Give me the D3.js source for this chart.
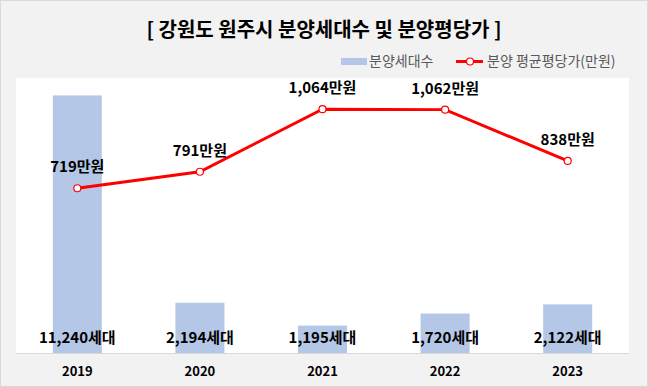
<!DOCTYPE html>
<html>
<head>
<meta charset="utf-8">
<script src="https://cdn.jsdelivr.net/npm/d3@7"></script>
<style>
  body { margin: 0; background: #fff; }
  svg { display: block; font-family: "Noto Sans CJK KR", "Noto Sans", sans-serif; }
</style>
</head>
<body>
<svg id="chart" width="648" height="387"></svg>
<script>
// data
const years = ["2019", "2020", "2021", "2022", "2023"];
const units = [11240, 2194, 1195, 1720, 2122];       // 분양세대수
const prices = [719, 791, 1064, 1062, 838];          // 분양 평균평당가(만원)

const width = 648, height = 387;
const plot = {left: 16, right: 629, top: 78, bottom: 353};

const svg = d3.select("#chart");

// background + border
svg.append("rect")
    .attr("x", 0.5).attr("y", 0.5)
    .attr("width", width - 1).attr("height", height - 1)
    .attr("fill", "#f2f2f2")
    .attr("stroke", "#d9d9d9");

svg.append("rect")
    .attr("x", plot.left).attr("y", plot.top)
    .attr("width", plot.right - plot.left).attr("height", plot.bottom - plot.top)
    .attr("fill", "#ffffff");

// scales
const x = d3.scaleBand()
    .domain(years)
    .range([plot.left, plot.right])
    .paddingInner(0.6)
    .paddingOuter(0.3);

const yBar = d3.scaleLinear().domain([0, 12000]).range([plot.bottom, plot.top]);
const yLine = d3.scaleLinear().domain([0, 1200]).range([plot.bottom, plot.top]);

// bars
svg.selectAll(".bar")
    .data(units)
    .join("rect")
    .attr("class", "bar")
    .attr("x", (d, i) => x(years[i]))
    .attr("y", d => yBar(d))
    .attr("width", x.bandwidth())
    .attr("height", d => yBar(0) - yBar(d))
    .attr("fill", "#b4c7e7");

// axis line at the bottom
svg.append("line")
    .attr("x1", plot.left).attr("x2", plot.right)
    .attr("y1", plot.bottom + 0.5).attr("y2", plot.bottom + 0.5)
    .attr("stroke", "#d9d9d9");

// year labels
const xAxis = svg.append("g")
    .attr("transform", `translate(0, ${plot.bottom})`)
    .call(d3.axisBottom(x).tickSize(0).tickPadding(14));
xAxis.select(".domain").remove();
xAxis.selectAll("text")
    .style("font-size", "13px")
    .style("font-weight", "bold")
    .style("font-family", "'Noto Sans CJK KR', sans-serif")
    .attr("fill", "#000");

// bar value labels (near base)
svg.selectAll(".barLabel")
    .data(units)
    .join("text")
    .attr("class", "barLabel")
    .attr("x", (d, i) => x(years[i]) + x.bandwidth() / 2)
    .attr("y", 343)
    .attr("text-anchor", "middle")
    .style("font-size", "15px")
    .style("font-weight", "bold")
    .attr("fill", "#000")
    .text(d => d3.format(",")(d) + "세대");

// line
const cx = (d, i) => x(years[i]) + x.bandwidth() / 2;
svg.append("path")
    .datum(prices)
    .attr("d", d3.line().x(cx).y(d => yLine(d)))
    .attr("fill", "none")
    .attr("stroke", "#ff0000")
    .attr("stroke-width", 3);

svg.selectAll(".dot")
    .data(prices)
    .join("circle")
    .attr("class", "dot")
    .attr("cx", cx)
    .attr("cy", d => yLine(d))
    .attr("r", 3.5)
    .attr("fill", "#fff")
    .attr("stroke", "#ff0000")
    .attr("stroke-width", 1.2);

svg.selectAll(".lineLabel")
    .data(prices)
    .join("text")
    .attr("class", "lineLabel")
    .attr("x", cx)
    .attr("y", d => yLine(d) - 16)
    .attr("text-anchor", "middle")
    .style("font-size", "15px")
    .style("font-weight", "bold")
    .attr("fill", "#000")
    .text(d => d3.format(",")(d) + "만원");

// title
svg.append("text")
    .attr("x", 324)
    .attr("y", 37)
    .attr("text-anchor", "middle")
    .style("font-size", "20px")
    .style("font-weight", "bold")
    .attr("fill", "#000")
    .text("[ 강원도 원주시 분양세대수 및 분양평당가 ]");

// legend
const legend = svg.append("g").attr("transform", "translate(0, 61)");
legend.append("rect")
    .attr("x", 341).attr("y", -3)
    .attr("width", 26).attr("height", 7)
    .attr("fill", "#b4c7e7");
legend.append("text")
    .attr("x", 369).attr("y", 5)
    .style("font-size", "14px")
    .attr("fill", "#595959")
    .text("분양세대수");
legend.append("line")
    .attr("x1", 456).attr("x2", 483)
    .attr("y1", 0.5).attr("y2", 0.5)
    .attr("stroke", "#ff0000").attr("stroke-width", 3);
legend.append("circle")
    .attr("cx", 470).attr("cy", 0.5).attr("r", 3.5)
    .attr("fill", "#fff").attr("stroke", "#ff0000").attr("stroke-width", 1.2);
legend.append("text")
    .attr("x", 487).attr("y", 5)
    .style("font-size", "14px")
    .attr("fill", "#595959")
    .text("분양 평균평당가(만원)");
</script>
</body>
</html>
